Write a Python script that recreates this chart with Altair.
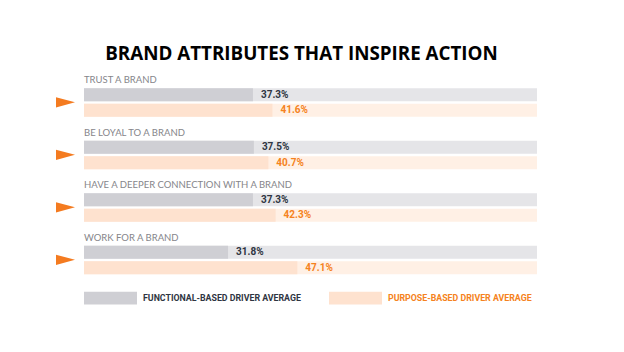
import altair as alt
import pandas as pd

categories = ["TRUST A BRAND", "BE LOYAL TO A BRAND",
              "HAVE A DEEPER CONNECTION WITH A BRAND", "WORK FOR A BRAND"]
series = ["FUNCTIONAL-BASED DRIVER AVERAGE", "PURPOSE-BASED DRIVER AVERAGE"]
functional = [37.3, 37.5, 37.3, 31.8]
purpose = [41.6, 40.7, 42.3, 47.1]
track_max = 100

bar_colors = ["#cfcfd4", "#fee2cf"]
track_colors = ["#e5e5e8", "#fff0e5"]
text_colors = ["#2f3542", "#f58220"]

rows = []
for c, f, p in zip(categories, functional, purpose):
    rows.append({"category": c, "series": series[0], "slot": series[0], "value": f,
                 "track": track_max, "label": f"{f:.1f}%"})
    rows.append({"category": c, "series": series[1], "slot": series[1], "value": p,
                 "track": track_max, "label": f"{p:.1f}%"})
df = pd.DataFrame(rows)
labels_df = pd.DataFrame({"category": categories, "slot": ["label"] * len(categories)})

W, H = 453, 210
x_scale = alt.Scale(domain=[0, track_max], nice=False, zero=True)
y_enc = alt.Y("category:N", sort=categories, axis=None,
              scale=alt.Scale(domain=categories, paddingInner=0, paddingOuter=0))
yoff_enc = alt.YOffset("slot:N",
                       scale=alt.Scale(domain=["label"] + series, paddingInner=0.15, paddingOuter=0.29))

base = alt.Chart(df)

track = base.mark_bar(cornerRadius=0).encode(
    x=alt.X("track:Q", scale=x_scale, axis=None),
    x2=alt.datum(0),
    y=y_enc, yOffset=yoff_enc,
    color=alt.Color("series:N", scale=alt.Scale(domain=series, range=track_colors), legend=None),
)

label_color_expr = ("datum.value === '" + series[1] + "' ? '" + text_colors[1]
                    + "' : '" + text_colors[0] + "'")

bars = base.mark_bar(cornerRadius=0).encode(
    x=alt.X("value:Q", scale=x_scale, axis=None),
    x2=alt.datum(0),
    y=y_enc, yOffset=yoff_enc,
    color=alt.Color("series:N", scale=alt.Scale(domain=series, range=bar_colors),
                    legend=alt.Legend(
                        title=None, orient="none", direction="horizontal",
                        legendX=0, legendY=203,
                        symbolType="M-1,-0.24H1V0.24H-1Z", symbolSize=2809,
                        symbolStrokeWidth=0, symbolOpacity=1,
                        labelFont="Roboto", labelFontSize=8.8, labelFontWeight="bold",
                        labelColor=alt.ExprRef(label_color_expr),
                        labelOffset=6, columnPadding=28, padding=0, labelLimit=300,
                    )),
)

values = base.mark_text(align="left", baseline="middle", dx=8, font="Roboto",
                        fontSize=10, fontWeight="bold").encode(
    x=alt.X("value:Q", scale=x_scale, axis=None),
    y=y_enc, yOffset=yoff_enc,
    text="label:N",
    color=alt.Color("series:N", scale=alt.Scale(domain=series, range=text_colors), legend=None),
)

cat_labels = alt.Chart(labels_df).mark_text(align="left", baseline="middle", dy=0.5,
                                            font="Lato", fontSize=9.5, color="#85858a").encode(
    x=alt.datum(0),
    y=y_enc, yOffset=yoff_enc,
    text="category:N",
)

arrows = alt.Chart(labels_df).mark_point(
    shape="M-1,-0.55L1,0L-1,0.55Z", filled=True, size=361, opacity=1,
    color="#f47b20", yOffset=7.5, strokeWidth=0,
).encode(
    x=alt.value(-18.5),
    y=y_enc,
)

chart = alt.layer(track, bars, values, cat_labels, arrows).resolve_scale(
    color="independent"
).properties(
    width=W, height=H,
    title=alt.Title("BRAND ATTRIBUTES THAT INSPIRE ACTION", font="Open Sans",
                    fontSize=18.8, fontWeight="bold", color="#000000",
                    anchor="middle", offset=5, dx=-9),
    autosize=alt.AutoSizeParams(type="none"),
    padding={"left": 84, "top": 68.6, "right": 87, "bottom": 73.4},
    background="#ffffff",
).configure_view(stroke=None)

chart.save("out.html", embed_options={"renderer": "svg", "actions": False})
